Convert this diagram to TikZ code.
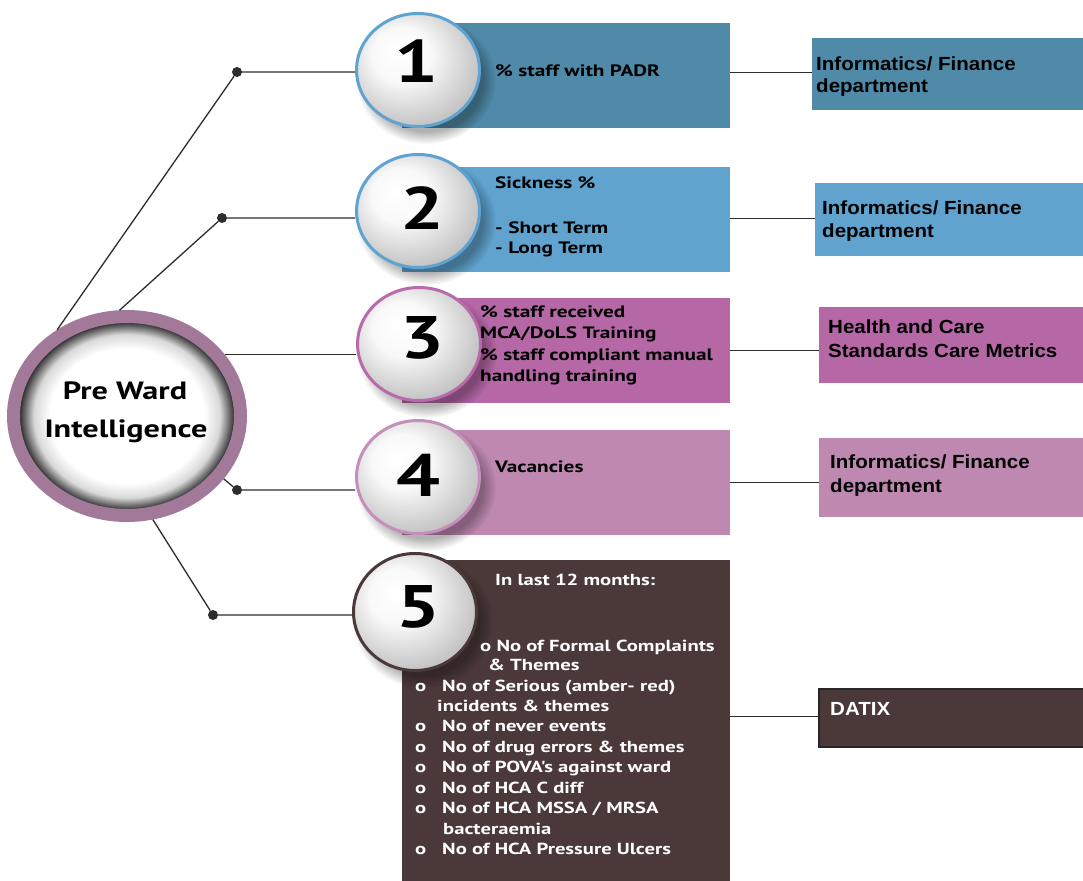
\documentclass[tikz,border=0pt]{standalone}
\usepackage{fontspec}
\newfontfamily\myr[FakeStretch=1.29]{PT Sans}
\newfontfamily\ari[FakeStretch=1.08]{Liberation Sans}
\usetikzlibrary{shapes.geometric,fadings}
\definecolor{cA}{RGB}{79,138,168}
\definecolor{cB}{RGB}{96,163,207}
\definecolor{cC}{RGB}{182,103,166}
\definecolor{cD}{RGB}{190,136,176}
\definecolor{cE}{RGB}{75,56,57}
\definecolor{bA}{RGB}{95,163,210}
\definecolor{bC}{RGB}{184,106,170}
\definecolor{bD}{RGB}{196,143,186}
\definecolor{ringc}{RGB}{163,121,153}
\definecolor{lineC}{RGB}{45,45,45}
\pgfdeclareradialshading{numball}{\pgfpoint{-9bp}{9bp}}{color(0bp)=(white); color(12bp)=(white!95!gray); color(36bp)=(black!32); color(50bp)=(black!32)}
\pgfdeclareradialshading{pwishade}{\pgfpoint{0bp}{0bp}}{color(0bp)=(white); color(17bp)=(white); color(20.5bp)=(black!15); color(23.8bp)=(black!85); color(50bp)=(black!85)}
\begin{document}
\begin{tikzpicture}[x=1pt,y=-1pt,
  conn/.style={draw=lineC, line width=1.3pt},
  dotc/.style={circle, fill=lineC, inner sep=0, minimum size=10pt},
  numc/.style={ellipse, line width=3pt, shading=numball, minimum width=123, minimum height=113, inner sep=0},
  digit/.style={inner sep=0, font=\myr\bfseries\fontsize{60}{60}\selectfont},
  box/.style={rectangle, inner sep=0, anchor=north west},
  btext/.style={anchor=base west, inner sep=0, font=\myr\bfseries\fontsize{16.5}{20}\selectfont},
  wtext/.style={anchor=base west, inner sep=0, text=white, font=\myr\bfseries\fontsize{16}{20}\selectfont},
  rtext/.style={anchor=base west, inner sep=0, font=\ari\bfseries\fontsize{19}{23}\selectfont},
  mtext/.style={anchor=base, inner sep=0, font=\myr\bfseries\fontsize{25}{25}\selectfont},
  shadowc/.style={black, opacity=0.3, path fading=circle with fuzzy edge 20 percent},
]
\useasboundingbox (0,0) rectangle (1083,880);
\fill[white] (0,0) rectangle (1083,880);

% boxes
\node[box, fill=cA, minimum width=328, minimum height=105] (b1) at (402,23) {};
\node[box, fill=cB, minimum width=328, minimum height=105] (b2) at (402,167) {};
\node[box, fill=cC, minimum width=328, minimum height=105] (b3) at (402,298) {};
\node[box, fill=cD, minimum width=328, minimum height=105] (b4) at (402,430) {};
\node[box, fill=cE, minimum width=328, minimum height=325] (b5) at (402,560) {};

\node[box, fill=cA, minimum width=275, minimum height=72] (r1) at (812,38) {};
\node[box, fill=cB, minimum width=272, minimum height=73] (r2) at (815,183) {};
\node[box, fill=cC, minimum width=268, minimum height=76] (r3) at (819,307) {};
\node[box, fill=cD, minimum width=268, minimum height=79] (r4) at (819,438) {};
\node[box, fill=cE, draw=black!85, line width=2pt, minimum width=272, minimum height=58] (r5) at (818,688) {};

% connectors to right boxes
\draw[conn] ([yshift=3.5]b1.east) -- ([yshift=3.5]b1.east -| r1.west);
\draw[conn] ([yshift=1.5]b2.east) -- ([yshift=1.5]b2.east -| r2.west);
\draw[conn] (b3.east) -- (b3.east -| r3.west);
\draw[conn] (b4.east) -- (b4.east -| r4.west);
\draw[conn] ([yshift=6]b5.east) -- ([yshift=6]b5.east -| r5.west);

% shadows of number circles
\coordinate (k1) at (418,70);
\coordinate (k2) at (418,211);
\coordinate (k3) at (419,344);
\coordinate (k4) at (418,477);
\coordinate (k5) at (415,612);
\foreach \k in {k1,k2,k3,k4}
  \fill[shadowc] ([shift={(8,10)}]\k) ellipse [x radius=70, y radius=64];
\fill[shadowc] ([shift={(8,10)}]k5) ellipse [x radius=70, y radius=66];

% number circles
\node[numc, draw=bA] (c1) at (k1) {};
\node[numc, draw=bA] (c2) at (k2) {};
\node[numc, draw=bC] (c3) at (k3) {};
\node[numc, draw=bD] (c4) at (k4) {};
\node[numc, draw=cE, minimum height=117] (c5) at (k5) {};
\node[digit] (n1) at (416,61) {1};
\node[digit] (n2) at (422,208) {2};
\node[digit] (n3) at (422,338) {3};
\node[digit] (n4) at (418,475) {4};
\node[digit] (n5) at (418,607) {5};

% main circle
\node[ellipse, draw=ringc, line width=13pt, shading=pwishade, minimum width=227, minimum height=199, inner sep=0] (pwi) at (127,416) {};
\node[mtext] (pt1) at (125,399) {Pre Ward};
\node[mtext] (pt2) at (126,437) {Intelligence};

% dots and left connectors
\node[dotc] (d1) at (237,72) {};
\node[dotc] (d2) at (222,218) {};
\node[dotc] (d4) at (237,490) {};
\node[dotc] (d5) at (213,615) {};
\draw[conn] (pwi.129) -- (d1) -- (c1.west |- d1);
\draw[conn] (pwi.94) -- (d2) -- (c2.west |- d2);
\draw[conn] (pwi.32) -- (pwi.32 -| c3.west);
\draw[conn] (pwi.-33) -- (d4) -- (c4.west |- d4);
\draw[conn] (pwi.-76) -- (d5) -- (c5.west |- d5);

% box texts
\node[btext] (t1) at (495,77) {\% staff with PADR};
\node[btext] (t2a) at (495,188) {Sickness \%};
\node[btext] (t2b) at (495,233) {- Short Term};
\node[btext] (t2c) at (495,253) {- Long Term};
\node[btext] (t3a) at (480,317) {\% staff received};
\node[btext] (t3b) at (480,338) {MCA/DoLS Training};
\node[btext] (t3c) at (480,360) {\% staff compliant manual};
\node[btext] (t3d) at (480,381) {handling training};
\node[btext] (t4) at (495,472) {Vacancies};

\node[wtext] (t5a) at (495,585) {In last 12 months:};
\node[wtext] (t5b) at (480,651) {o No of Formal Complaints};
\node[wtext] (t5c) at (488,670) {\& Themes};
\foreach \txt [count=\i] in {No of Serious (amber- red), , No of  never events, No of drug errors \& themes, No of POVA's against ward, No of HCA C diff, No of HCA MSSA / MRSA, , No of HCA Pressure Ulcers}{
  \pgfmathsetmacro{\yy}{691+20.4*(\i-1)}
  \node[wtext] (t5t\i) at (442,\yy) {\txt};
}
\foreach \i in {1,3,4,5,6,7,9}{
  \pgfmathsetmacro{\yy}{691+20.4*(\i-1)}
  \node[wtext] (t5o\i) at (415,\yy) {o};
}
\node[wtext] (t5x) at (437,711.4) {incidents \& themes};
\node[wtext] (t5y) at (443,834) {bacteraemia};

% right texts
\node[rtext] (ra1) at (816,71) {Informatics/ Finance};
\node[rtext] (ra2) at (816,93) {department};
\node[rtext] (rb1) at (822,214) {Informatics/ Finance};
\node[rtext] (rb2) at (822,237) {department};
\node[rtext] (rc1) at (828,333) {Health and Care};
\node[rtext] (rc2) at (828,357) {Standards Care Metrics};
\node[rtext] (rd1) at (830,468) {Informatics/ Finance};
\node[rtext] (rd2) at (830,492) {department};
\node[rtext, text=white] (re1) at (830,715) {DATIX};
\end{tikzpicture}
\end{document}
